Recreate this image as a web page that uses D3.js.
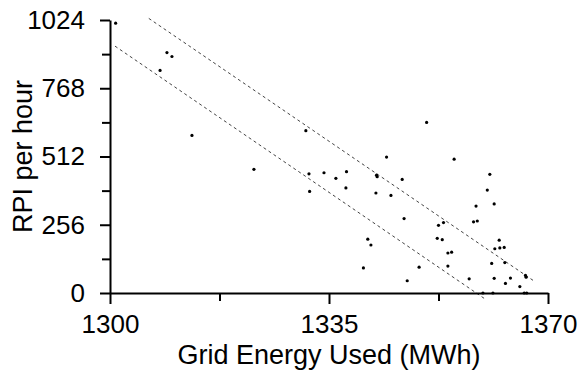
<!DOCTYPE html>
<html>
<head>
<meta charset="utf-8">
<script src="https://cdn.jsdelivr.net/npm/d3@7"></script>
<style>
  html, body { margin: 0; padding: 0; background: #fff; }
  svg { display: block; font-family: "Liberation Sans", Arial, sans-serif; }
</style>
</head>
<body>
<svg id="chart" width="580" height="370"></svg>
<script>
// ---- data ----
const energyMWh = [
  1300.9, 1309.1, 1309.9, 1308.0, 1313.1, 1323.0,
  1331.3, 1350.6, 1344.2, 1331.8, 1334.2, 1337.8, 1336.1, 1342.6, 1342.7, 1346.7,
  1331.9, 1337.7, 1342.5, 1344.9, 1347.0, 1341.2, 1341.7, 1340.5,
  1355.0, 1360.7, 1360.3, 1361.4, 1358.5, 1358.1, 1358.7, 1352.5, 1353.3,
  1352.3, 1353.1, 1362.2, 1361.5, 1362.3, 1363.0, 1354.0, 1354.6, 1363.1,
  1361.0, 1349.4, 1354.0, 1347.5, 1357.4, 1361.4, 1364.0, 1366.4, 1366.5,
  1363.2, 1365.5, 1359.6, 1361.2, 1366.2, 1366.6
];
const rpiPerHour = [
  1012, 902, 887, 835, 591, 464,
  609, 640, 510, 447, 451, 455, 430, 442, 436, 426,
  381, 394, 375, 366, 279, 202, 180, 94,
  502, 445, 386, 334, 326, 267, 270, 254, 264,
  205, 200, 198, 166, 169, 171, 150, 153, 114,
  111, 97, 101, 46, 53, 55, 56, 66, 59,
  36, 24, 0, 0, 0, 0
];
const upperBandX = [1306.2, 1367.7];
const upperBandY = [1030, 46];
const lowerBandX = [1300.8, 1360.1];
const lowerBandY = [926, -25];
const xMajorTicks = [1300, 1335, 1370];
const xMinorTicks = [1317.5, 1352.5];
const yMajorTicks = [0, 256, 512, 768, 1024];
const yMinorTicks = [128, 384, 640, 896];
const xTitle = "Grid Energy Used (MWh)";
const yTitle = "RPI per hour";

// ---- chart ----
const svg = d3.select("#chart");
const x = d3.scaleLinear().domain([1300, 1370]).range([110, 548]);
const y = d3.scaleLinear().domain([0, 1024]).range([293, 20]);

// bands
const line = d3.line().x(d => x(d[0])).y(d => y(d[1]));
[[upperBandX, upperBandY], [lowerBandX, lowerBandY]].forEach(([bx, by]) => {
  svg.append("path")
    .datum(bx.map((v, i) => [v, by[i]]))
    .attr("d", line)
    .attr("fill", "none")
    .attr("stroke", "#444")
    .attr("stroke-width", 1)
    .attr("stroke-dasharray", "3,3");
});

// points
svg.append("g").selectAll("circle")
  .data(energyMWh.map((v, i) => [v, rpiPerHour[i]]))
  .join("circle")
  .attr("cx", d => x(d[0]))
  .attr("cy", d => y(d[1]))
  .attr("r", 1.6)
  .attr("fill", "#000");

// axes
function styleAxis(g) {
  g.select(".domain").attr("stroke", "#000").attr("stroke-width", 2);
  g.selectAll(".tick line").attr("stroke", "#000").attr("stroke-width", 2);
  g.selectAll("text").attr("font-family", "'Liberation Sans', Arial, sans-serif")
    .attr("font-size", 26).attr("fill", "#000");
}

// minor ticks
svg.append("g").attr("transform", `translate(0,${y(0)})`)
  .call(d3.axisBottom(x).tickValues(xMinorTicks).tickSize(8).tickFormat(""))
  .call(g => { g.select(".domain").remove(); g.selectAll(".tick line").attr("stroke", "#000").attr("stroke-width", 2); });
svg.append("g").attr("transform", `translate(${x(1300)},0)`)
  .call(d3.axisLeft(y).tickValues(yMinorTicks).tickSize(8).tickFormat(""))
  .call(g => { g.select(".domain").remove(); g.selectAll(".tick line").attr("stroke", "#000").attr("stroke-width", 2); });

svg.append("g").attr("transform", `translate(0,${y(0)})`)
  .call(d3.axisBottom(x).tickValues(xMajorTicks).tickSize(11).tickSizeOuter(0).tickPadding(11).tickFormat(d3.format("d")))
  .call(styleAxis);
svg.append("g").attr("transform", `translate(${x(1300)},0)`)
  .call(d3.axisLeft(y).tickValues(yMajorTicks).tickSize(10).tickSizeOuter(0).tickPadding(15).tickFormat(d3.format("d")))
  .call(styleAxis);

// titles
svg.append("text")
  .attr("x", (x(1300) + x(1370)) / 2)
  .attr("y", 364)
  .attr("text-anchor", "middle")
  .attr("font-size", 27)
  .text(xTitle);
svg.append("text")
  .attr("transform", `translate(32,${(y(0) + y(1024)) / 2}) rotate(-90)`)
  .attr("text-anchor", "middle")
  .attr("font-size", 27)
  .text(yTitle);
</script>
</body>
</html>
